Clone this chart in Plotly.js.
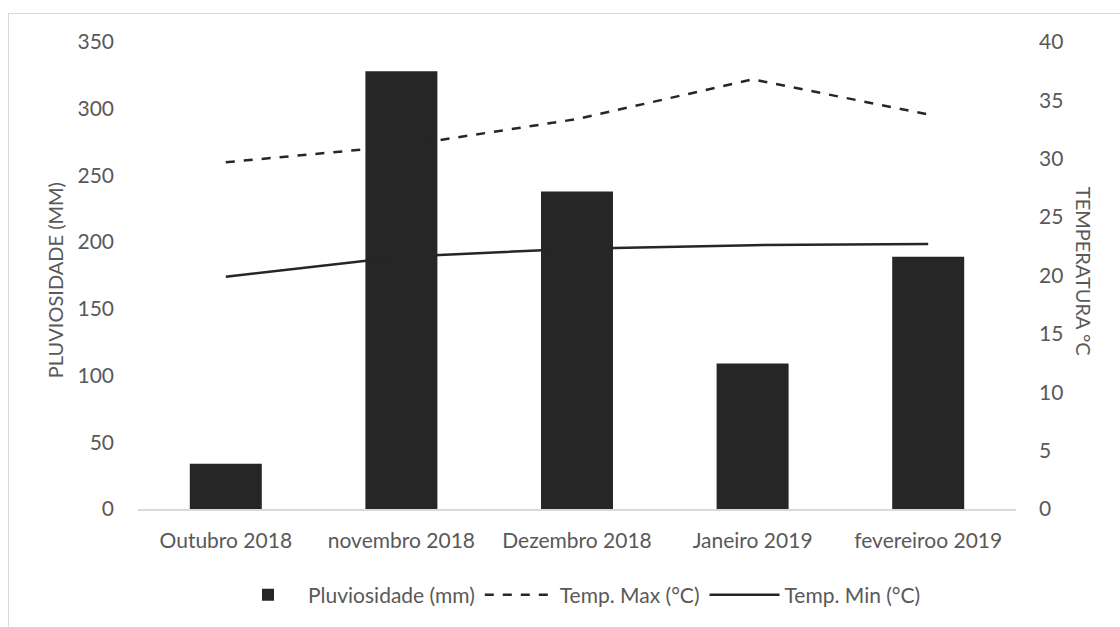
<!DOCTYPE html>
<html><head><meta charset="utf-8">
<script src="https://cdn.plot.ly/plotly-3.0.1.min.js"></script>
<style>
html,body{margin:0;padding:0;overflow:hidden;background:#fff;}
#frame{position:absolute;left:8px;top:13px;width:1300px;height:800px;border:1px solid #d9d9d9;box-sizing:border-box;}
#chart{position:absolute;left:0;top:0;width:1120px;height:627px;}
</style></head>
<body>
<div id="frame"></div>
<div id="chart"></div>
<script>
const categories = ["Outubro 2018", "novembro 2018", "Dezembro 2018", "Janeiro 2019", "fevereiroo 2019"];
const pluviosidade = [34, 328, 238, 109, 189];
const tempMax = [29.7, 31.1, 33.4, 36.8, 33.8];
const tempMin = [19.9, 21.6, 22.3, 22.6, 22.7];

const font = "Lato, 'Open Sans', sans-serif";
const ink = "#262626";
const labelColor = "#595959";

const traces = [
  {type:"bar", name:"Pluviosidade (mm)", x:categories, y:pluviosidade, yaxis:"y",
   marker:{color:ink, line:{width:0}}},
  {type:"scatter", mode:"lines", name:"Temp. Max (°C)", x:categories, y:tempMax, yaxis:"y2",
   line:{color:ink, width:2.5, dash:"dash"}},
  {type:"scatter", mode:"lines", name:"Temp. Min (°C)", x:categories, y:tempMin, yaxis:"y2",
   line:{color:ink, width:2.5}}
];

const layout = {
  width:1120, height:627,
  paper_bgcolor:"rgba(0,0,0,0)", plot_bgcolor:"rgba(0,0,0,0)",
  margin:{l:138, r:104, t:42, b:117},
  font:{family:font, color:labelColor, size:21},
  bargap:0.59,
  showlegend:true,
  legend:{orientation:"h", x:0.5, xanchor:"center", y:-0.182, yanchor:"middle",
          font:{family:font, size:21, color:labelColor}, traceorder:"normal",
          itemwidth:70},
  xaxis:{type:"category", showgrid:false, showline:true, linecolor:"#d9d9d9", linewidth:2,
         ticks:"", tickfont:{family:font, size:21, color:labelColor}, ticklabelstandoff:12,
         automargin:false},
  yaxis:{range:[0,350], dtick:50, showgrid:false, zeroline:false, showline:false, ticks:"",
         tickfont:{family:font, size:21, color:labelColor}, ticklabelstandoff:23, automargin:false},
  yaxis2:{range:[0,40], dtick:5, overlaying:"y", side:"right", showgrid:false, zeroline:false,
          showline:false, ticks:"", tickfont:{family:font, size:21, color:labelColor},
          ticklabelstandoff:22, automargin:false},
  annotations:[
    {text:"PLUVIOSIDADE (MM)", xref:"paper", yref:"paper", x:(55-138)/878, y:0.49, xanchor:"center", yanchor:"middle",
     textangle:-90, showarrow:false, font:{family:font, size:20, color:labelColor}},
    {text:"TEMPERATURA °C", xref:"paper", yref:"paper", x:(1084-138)/878, y:0.51, xanchor:"center", yanchor:"middle",
     textangle:90, showarrow:false, font:{family:font, size:20, color:labelColor}}
  ]
};

Plotly.newPlot("chart", traces, layout, {displayModeBar:false, staticPlot:true});
</script>
</body></html>
